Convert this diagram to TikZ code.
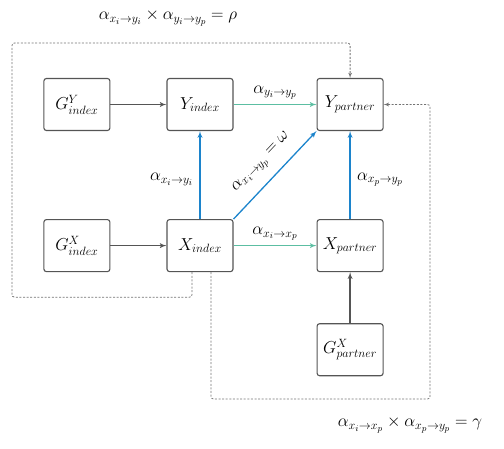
\documentclass[tikz,border=0pt]{standalone}
\usepackage{amsmath}
\usepackage{amssymb}
\usepackage{xcolor}
\usepackage{tikz}
\usetikzlibrary{shapes,arrows,positioning,calc}

\definecolor{pathteal}{RGB}{92,190,162}
\definecolor{pathblue}{RGB}{28,132,204}
\definecolor{boxgray}{RGB}{85,85,85}

\tikzset{
  var/.style={rectangle, draw=boxgray, line width=1.1pt, rounded corners=2.5pt, fill=white,
    minimum width=66pt, minimum height=52pt, inner sep=0pt,
    font=\fontsize{17}{20}\selectfont},
  gen/.style={->, line width=1.3pt, draw=boxgray},
  direct/.style={->, line width=1.3pt, draw=pathteal},
  cross/.style={->, line width=1.3pt, draw=pathblue},
  route/.style={->, draw=gray!90!black, line width=0.8pt, dash pattern=on 2pt off 1.6pt, rounded corners=2.5pt},
  lab/.style={font=\fontsize{18}{21}\selectfont}
}

\begin{document}
\begin{tikzpicture}[x=1pt, y=1pt, >=latex', node distance=83pt]
    \useasboundingbox (0,0) rectangle (504,-448);

    \node [var] (yidx) at (200,-104.5) {$Y_{index}$};
    \node [var, right=of yidx] (ypart) {$Y_{partner}$};
    \node [var, left=56pt of yidx] (gyidx) {$G^{Y}_{index}$};
    \node [var, below=88pt of yidx] (xidx) {$X_{index}$};
    \node [var, right=of xidx] (xpart) {$X_{partner}$};
    \node [var, left=56pt of xidx] (gxidx) {$G^{X}_{index}$};
    \node [var, below=51pt of xpart] (gxpart) {$G^{X}_{partner}$};

    % genetic inputs
    \draw [gen] (gyidx) -- (yidx);
    \draw [gen] (gxidx) -- (xidx);
    \draw [gen] (gxpart) -- (xpart);

    % paths between index and partner
    \draw [direct] (yidx) -- node[lab, above=1pt] {$\alpha_{y_i \rightarrow y_p}$} (ypart);
    \draw [direct] (xidx) -- node[lab, above=1pt] {$\alpha_{x_i \rightarrow x_p}$} (xpart);
    \draw [cross] (xidx) -- node[lab, left=3pt, pos=0.45] {$\alpha_{x_i \rightarrow y_i}$} (yidx);
    \draw [cross] (xpart) -- node[lab, right=3pt, pos=0.45] {$\alpha_{x_p \rightarrow y_p}$} (ypart);
    \draw [cross] (xidx.north east) -- node[lab, sloped, above=7pt, pos=0.5] {$\alpha_{x_i \rightarrow y_p} = \omega$} (ypart.south west);

    % indirect routes
    \draw [route] ([xshift=-8pt]xidx.south) -- ++(0,-25) -| (12,-43) -| (ypart.north);
    \draw [route] ([xshift=11pt]xidx.south) |- (430,-399) |- (ypart.east);

    \node [lab] (rho) at (168,-18) {$\alpha_{x_i \rightarrow y_i} \times \alpha_{y_i \rightarrow y_p} = \rho$};
    \node [lab] (gamma) at (410,-425) {$\alpha_{x_i \rightarrow x_p} \times \alpha_{x_p \rightarrow y_p} = \gamma$};
\end{tikzpicture}
\end{document}
